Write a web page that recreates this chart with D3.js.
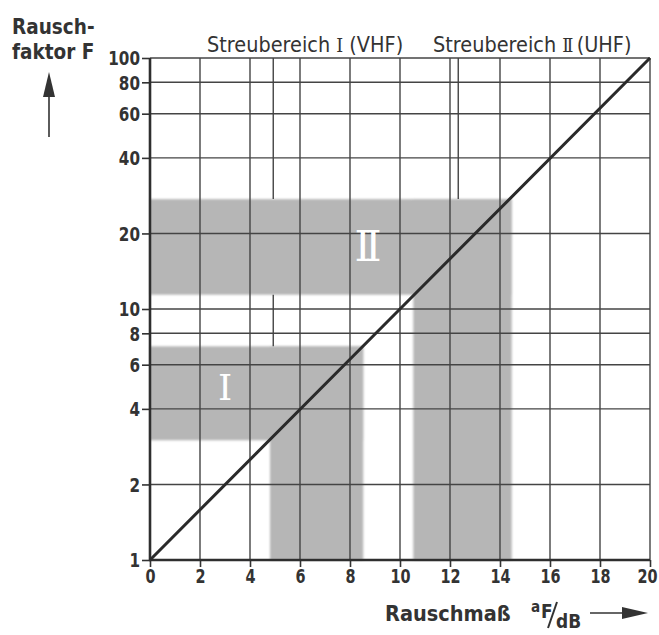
<!DOCTYPE html>
<html>
<head>
<meta charset="utf-8">
<script src="https://cdn.jsdelivr.net/npm/d3@7"></script>
<style>
  html, body { margin: 0; padding: 0; background: #fff; }
  svg { display: block; }
  .lbl { font-family: "DejaVu Sans", sans-serif; fill: #333; }
</style>
</head>
<body>
<svg id="chart" width="659" height="635"></svg>
<script>
// Noise measure a_F in dB (x) against noise factor F (log y)
const xTicks = [0, 2, 4, 6, 8, 10, 12, 14, 16, 18, 20];
const yTicks = [1, 2, 4, 6, 8, 10, 20, 40, 60, 80, 100];
const yTickLabels = ["1", "2", "4", "6", "8", "10", "20", "40", "60", "80", "100"];

// F = 10^(a/10): straight line on the log scale
const noiseLine = [[0, 1], [10, 10], [20, 100]];

// Scatter ranges, each as [aFrom, aTo, FFrom, FTo]
const scatterI  = [[0, 8.53, 3.0, 7.1], [4.8, 8.53, 1, 7.1]];
const scatterII = [[0, 14.47, 11.4, 27.4], [10.53, 14.47, 1, 27.4]];

// Short marker lines: [a, [[FFrom, FTo], ...]]
const markers = [
  [4.93, [[27.4, 100], [7.1, 11.4]]],
  [12.33, [[27.4, 100]]]
];

// Roman numerals inside the scatter ranges: [text, a, F]
const rangeNames = [["I", 3.0, 4.9], ["II", 8.6, 17.9]];

const svg = d3.select("#chart");
const x = d3.scaleLinear().domain([0, 20]).range([150, 650]);
const y = d3.scaleLog().domain([1, 100]).range([560, 58]);

// narrow lettering: squeeze a text horizontally about its anchor x
function condense(sel, sx) {
  sel.each(function () {
    const t = d3.select(this);
    const x0 = +t.attr("x") || 0;
    t.attr("transform", `translate(${x0},0) scale(${sx},1) translate(${-x0},0)`);
  });
}

const defs = svg.append("defs");
defs.append("filter").attr("id", "soft")
  .attr("x", "-5%").attr("y", "-5%").attr("width", "110%").attr("height", "110%")
  .append("feGaussianBlur").attr("stdDeviation", 1.3);

// shaded scatter ranges
const shade = svg.append("g").attr("filter", "url(#soft)");
[scatterI, scatterII].forEach(rects => {
  shade.selectAll(null).data(rects).enter().append("rect")
    .attr("x", d => x(d[0]))
    .attr("width", d => x(d[1]) - x(d[0]))
    .attr("y", d => y(d[3]))
    .attr("height", d => y(d[2]) - y(d[3]))
    .attr("fill", "#b6b6b6");
});

// grid
const grid = svg.append("g").attr("stroke", "#444").attr("stroke-width", 1.4);
grid.selectAll(null).data(xTicks.slice(1)).enter().append("line")
  .attr("x1", d => x(d)).attr("x2", d => x(d))
  .attr("y1", y(1)).attr("y2", y(100));
grid.selectAll(null).data(yTicks.slice(1)).enter().append("line")
  .attr("x1", x(0)).attr("x2", x(20))
  .attr("y1", d => y(d)).attr("y2", d => y(d));

// marker lines
markers.forEach(([a, segs]) => {
  grid.selectAll(null).data(segs).enter().append("line")
    .attr("x1", x(a)).attr("x2", x(a))
    .attr("y1", d => y(d[0])).attr("y2", d => y(d[1]));
});

// axes
const xAxis = d3.axisBottom(x).tickValues(xTicks).tickSize(7).tickPadding(2).tickFormat(d3.format("d"));
const yAxis = d3.axisLeft(y).tickValues(yTicks).tickSize(8).tickPadding(2)
  .tickFormat((d, i) => yTickLabels[i]);

const gx = svg.append("g").attr("transform", `translate(0,${y(1)})`).call(xAxis);
const gy = svg.append("g").attr("transform", `translate(${x(0)},0)`).call(yAxis);
[gx, gy].forEach(g => {
  g.select(".domain").remove();
  g.selectAll(".tick line").attr("stroke", "#333").attr("stroke-width", 1.6);
  g.selectAll(".tick text").attr("class", "lbl")
    .attr("font-size", 19).attr("font-weight", "bold").attr("fill", "#333");
});
gy.selectAll(".tick text").attr("dy", "0.36em");
gx.selectAll(".tick text").attr("dy", "0.76em");
// the last label sits a little inside the right edge
gx.selectAll(".tick text").filter(d => d === 20).attr("x", -3);
condense(gx.selectAll(".tick text"), 0.76);
condense(gy.selectAll(".tick text"), 0.8);

svg.append("line").attr("x1", x(0)).attr("x2", x(0)).attr("y1", y(1) + 1).attr("y2", y(100))
  .attr("stroke", "#2e2e2e").attr("stroke-width", 2.6);
svg.append("line").attr("x1", x(0) - 1).attr("x2", x(20)).attr("y1", y(1)).attr("y2", y(1))
  .attr("stroke", "#2e2e2e").attr("stroke-width", 2.6);

// noise factor line
svg.append("path").datum(noiseLine)
  .attr("d", d3.line().x(d => x(d[0])).y(d => y(d[1])))
  .attr("fill", "none").attr("stroke", "#2a2a2a").attr("stroke-width", 3);

// roman numerals in the shaded ranges
svg.selectAll(null).data(rangeNames).enter().append("text")
  .attr("x", d => x(d[1])).attr("y", d => y(d[2]))
  .attr("text-anchor", "middle").attr("dy", "0.36em")
  .attr("font-family", "DejaVu Serif, Liberation Serif, serif")
  .attr("font-size", d => d[0] === "I" ? 36 : 42)
  .attr("letter-spacing", d => d[0] === "I" ? 0 : -6)
  .attr("fill", "#fff")
  .text(d => d[0]);

// range headers
function header(xpos, numeral, band) {
  const t = svg.append("text").attr("class", "lbl").attr("x", xpos).attr("y", 52)
    .attr("font-size", 21);
  t.append("tspan").text("Streubereich ");
  t.append("tspan").attr("font-family", "DejaVu Serif, serif").attr("letter-spacing", numeral.length > 1 ? -3 : 0)
    .attr("font-size", 19).text(numeral);
  t.append("tspan").text(" (" + band + ")");
  condense(t, 0.92);
}
header(207, "I", "VHF");
header(433, "II", "UHF");

// y axis title
const yt1 = svg.append("text").attr("class", "lbl").attr("x", 12).attr("y", 34)
  .attr("font-size", 22).attr("font-weight", "bold").text("Rausch-");
const yt2 = svg.append("text").attr("class", "lbl").attr("x", 12).attr("y", 59)
  .attr("font-size", 22).attr("font-weight", "bold").text("faktor F");
condense(yt1, 0.84);
condense(yt2, 0.84);
svg.append("line").attr("x1", 49).attr("x2", 49).attr("y1", 137).attr("y2", 92)
  .attr("stroke", "#333").attr("stroke-width", 1.6);
svg.append("path").attr("d", "M49,72 L43,97 L55,97 Z").attr("fill", "#333");

// x axis title
const xt = svg.append("text").attr("class", "lbl").attr("x", 385).attr("y", 621)
  .attr("font-size", 22).attr("font-weight", "bold").text("Rauschmaß");
condense(xt, 0.88);
const unit = svg.append("g");
const ua = unit.append("text").attr("class", "lbl").attr("x", 531).attr("y", 612).attr("font-size", 16).attr("font-weight", "bold").text("a");
const uf = unit.append("text").attr("class", "lbl").attr("x", 541).attr("y", 618).attr("font-size", 20).attr("font-weight", "bold").text("F");
unit.append("line").attr("x1", 548).attr("y1", 628).attr("x2", 557).attr("y2", 602).attr("stroke", "#333").attr("stroke-width", 2);
const ud = unit.append("text").attr("class", "lbl").attr("x", 556).attr("y", 628).attr("font-size", 20).attr("font-weight", "bold").text("dB");
condense(ua, 0.85); condense(uf, 0.85); condense(ud, 0.85);
svg.append("line").attr("x1", 590).attr("x2", 625).attr("y1", 613).attr("y2", 613)
  .attr("stroke", "#333").attr("stroke-width", 1.6);
svg.append("path").attr("d", "M648,613 L622,607 L622,619 Z").attr("fill", "#333");
</script>
</body>
</html>
